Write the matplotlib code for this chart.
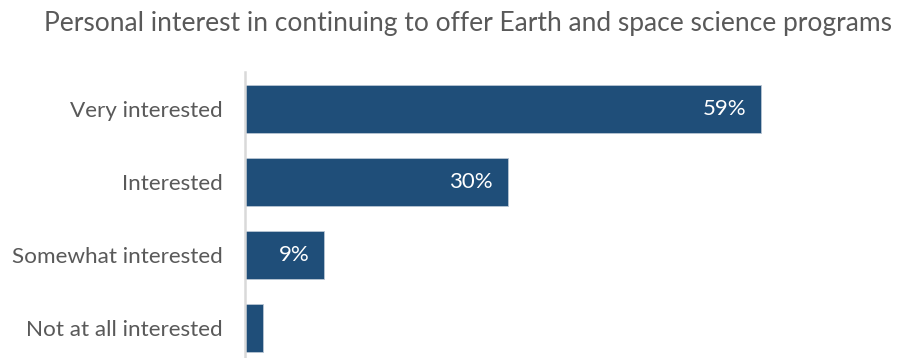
import matplotlib.pyplot as plt
from matplotlib.transforms import offset_copy

categories = ["Very interested", "Interested", "Somewhat interested", "Not at all interested"]
values = [59, 30, 9, 2]
labels = ["59%", "30%", "9%", ""]
title = "Personal interest in continuing to offer Earth and space science programs"

W, H = 901, 358
fig = plt.figure(figsize=(W / 100, H / 100), dpi=100)
plt.rcParams['font.family'] = ['Lato', 'DejaVu Sans']

left, right = 245.5, 901
top, bottom = 72.5, 364.5
ax = fig.add_axes([left / W, 1 - bottom / H, (right - left) / W, (bottom - top) / H])

bar_color = "#1F4E79"
y = list(range(len(categories)))
ax.barh(y, values, height=0.66, color=bar_color, edgecolor="#b9c6d3", linewidth=0.6)
ax.set_ylim(len(categories) - 0.5, -0.5)
ax.set_xlim(0, 75)
ax.set_yticks(y)
ax.set_yticklabels(categories, fontsize=16.2, color="#595959")
ax.tick_params(axis="y", length=0, pad=16.5)
ax.set_xticks([])
for s in ["top", "right", "bottom"]:
    ax.spines[s].set_visible(False)
ax.spines["left"].set_color("#D9D9D9")
ax.spines["left"].set_linewidth(1.8)

for yi, v, lab in zip(y, values, labels):
    if lab:
        tr = offset_copy(ax.transData, fig=fig, x=-15, y=0, units="dots")
        ax.text(v, yi, lab, transform=tr, ha="right", va="center",
                color="white", fontsize=16)

fig.text(468 / W, 1 - 23 / H, title, ha="center", va="center", fontsize=19, color="#595959")

fig.savefig("out.png", dpi=100)
